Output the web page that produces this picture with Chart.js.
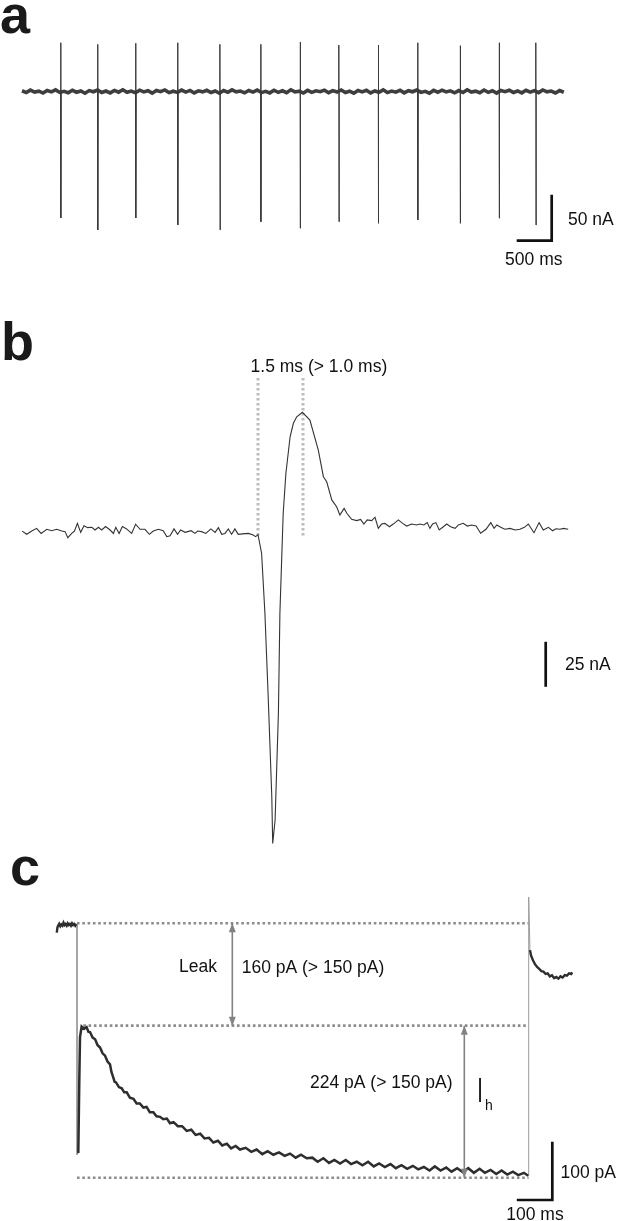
<!DOCTYPE html>
<html>
<head>
<meta charset="utf-8">
<script src="https://cdn.jsdelivr.net/npm/chart.js@4.4.0/dist/chart.umd.min.js"></script>
<style>
  body { margin: 0; background: #fff; width: 617px; height: 1221px; position: relative; overflow: hidden; }
  canvas { position: absolute; left: 0; }
</style>
</head>
<body>
<canvas id="panelA" width="617" height="280" style="top:0"></canvas>
<canvas id="panelB" width="617" height="590" style="top:280px"></canvas>
<canvas id="panelC" width="617" height="381" style="top:840px"></canvas>
<script>
// ---- panel a : spike train (ms, nA) ----
const spikeTimes = [553, 1081, 1624, 2224, 2827, 3411, 3974, 4526, 5090, 5653, 6260, 6817, 7340];
const spikeUp    = [53, 51.3, 52.4, 53, 51.3, 51.3, 53.8, 50.5, 50.5, 53, 49.8, 53, 53];
const spikeDown  = [-137.5, -150.5, -137.5, -145.1, -150.5, -141.5, -148.7, -141.5, -143.3, -139.7, -143.3, -137.8, -145.1];
const baseStepA  = 60; // ms between baseline samples
const baselineNoise = [
  0.8,-1.2,1.5,-0.6,0.3,-1.7,1.1,-0.4,1.8,-1.0,0.2,-1.4,1.3,-0.8,0.6,-1.9,1.0,-0.3,1.6,-1.1,
  0.5,-1.5,1.2,-0.7,1.9,-0.9,0.4,-1.3,1.4,-0.5,0.9,-1.8,1.1,-0.2,1.7,-1.2,0.3,-1.0,1.5,-0.6,
  1.2,-1.6,0.7,-0.4,1.3,-1.1,0.6,-1.9,1.0,-0.8,1.8,-0.3,0.5,-1.4,1.1,-0.7,1.6,-1.2,0.2,-1.5,
  1.4,-0.9,0.8,-1.3,1.9,-0.5,0.4,-1.7,1.2,-1.0,0.7,-0.2,1.5,-1.3,1.0,-0.6,1.7,-1.1,0.3,-1.8,
  1.1,-0.4,1.4,-1.6,0.6,-0.9,1.8,-1.2,0.5,-0.7,1.3,-1.5,0.9,-0.3,1.6,-1.0,0.2,-1.9,1.2,-0.8,
  1.5,-0.5,0.7,-1.4,1.0,-1.1,1.9,-0.6,0.4,-1.3,1.6,-0.9,0.8,-1.7,1.1,-0.2,1.4,-1.0,0.6,-1.5,
  1.3,-0.7,0.9,-1.2,1.7,-0.4,0.5,-1.6,1.0,-0.8
];
const scaleBarA = { t: 7567, v: -162.2, dt: 500, dv: 50 };

// ---- panel b : single spike (ms, nA) ----
const bTime = [
  -7.86,-7.71,-7.54,-7.38,-7.23,-7.04,-6.88,-6.71,-6.54,-6.43,-6.34,-6.21,-6.12,-6.02,-5.91,-5.80,-5.68,-5.54,-5.43,-5.32,
  -5.21,-5.08,-4.93,-4.82,-4.74,-4.63,-4.52,-4.38,-4.21,-4.08,-3.93,-3.77,-3.62,-3.49,-3.32,-3.16,-3.04,-2.93,-2.80,-2.68,
  -2.58,-2.43,-2.34,-2.23,-2.10,-2.01,-1.88,-1.74,-1.57,-1.43,-1.32,-1.21,-1.10,-0.99,-0.88,-0.77,-0.66,-0.43,-0.32,-0.16,
  -0.08,0.00,
  0.12,0.23,0.34,0.46,0.49,0.57,0.68,0.73,0.84,0.93,1.07,1.18,1.29,1.48,1.73,2.01,2.18,2.29,2.46,2.62,2.73,2.87,2.96,3.12,
  3.29,3.42,3.53,3.64,3.79,3.90,4.01,4.12,4.23,4.38,4.51,4.68,4.82,4.96,5.12,5.29,5.40,5.53,5.64,5.73,
  5.82,5.93,6.04,6.18,6.29,6.42,6.57,6.68,6.84,6.98,7.12,7.27,7.42,7.60,7.76,7.87,7.96,8.09,8.23,8.40,
  8.57,8.73,8.88,9.01,9.20,9.37,9.51,9.68,9.82,9.93,10.07,10.18,10.34
];
const bCurrent = [
  -0.6,-2.4,-0.6,0.9,-1.9,0.4,-0.4,0.4,-0.6,-0.9,-4.3,-1.9,-0.6,3.7,-1.3,2.4,1.3,1.5,0,1.5,
  0,1.9,0,-1.9,1.5,-1.9,1.9,0.6,-1.9,3.2,0.4,0.4,-2.4,-0.6,0.4,-0.4,-3.7,-3.2,0.6,-2.4,
  0,-1.3,-0.9,-0.4,-1.9,-0.6,-0.9,-1.9,0.6,-1.3,1.3,-2.4,-1.9,0.6,-2.4,0.6,-2.4,-2.0,-1.9,-2.8,
  -3.7,-2.6,
  -12.9,-46.1,-92.6,-148.2,-174.1,-161.1,-101.8,-46.3,9.3,31.5,51.8,59.3,62.9,65.4,61.1,44.4,29.6,26.8,16.7,12.9,8.3,12.0,9.3,5.9,
  5.2,5.9,3.3,5.6,5.2,7.1,0.9,3.3,3.7,1.8,3.3,5.6,3.7,2.2,3.3,2.8,3.3,2.8,4.1,0.9,
  3.3,4.1,0,1.8,3.3,1.8,0.9,2.8,3.7,2.2,2.8,2.2,-1.8,0.4,4.1,0.9,2.8,1.5,0.4,0.9,
  0,0.4,1.5,3.3,-1.5,4.1,0,1.5,-0.4,0.7,0.4,0.9,0.4
];
const widthMarks = [0, 1.5];          // ms, onset and peak
const widthMarkRange = [84.4, -3.5];  // nA
const scaleBarB = { t: 9.59, v: -87.1, dv: 25 };

// ---- panel c : hyperpolarising step (ms, pA) ----
const cPre = [[-57,-16],[-55,-7],[-53,-4],[-50,-1],[-47,-5],[-44,-2],[-41,-4],[-38,1],[-35,-3],[-32,-1],
  [-29,-4],[-26,0],[-23,-3],[-20,-1],[-17,-4],[-14,0],[-11,-3],[-8,-1],[-5,-4],[-2,-1]];
const cStep = [[3.7,-394],[6.5,-269],[8.5,-195],[13,-177],[20,-181],[27,-178],[32,-186],[37,-187],[44,-196],[51,-199],
  [58,-209],[65,-213],[72,-223],[79,-227],[86,-237],[93,-242],[97,-255],[101,-262],[106,-272],[110,-273],
  [118,-281],[126,-283],[133,-290],[140,-290],[149,-299],[159,-301],[168,-309],[177,-309],[187,-316],[196,-315],
  [205,-324],[215,-324],[224,-331],[234,-332],[243,-336],[253,-335],[262,-343],[272,-341],[284,-348],[296,-348],
  [309,-356],[322,-354],[334,-363],[347,-361],[359,-369],[372,-368],[384,-376],[397,-373],[409,-381],[422,-378],
  [434,-386],[447,-382],[459,-388],[475,-385],[491,-392],[506,-388],[522,-396],[537,-391],[553,-397],[569,-393],
  [585,-399],[600,-395],[616,-402],[631,-397],[647,-403],[663,-402],[678,-409],[694,-403],[710,-411],[725,-406],
  [741,-412],[757,-406],[772,-413],[788,-409],[804,-415],[820,-409],[836,-417],[851,-412],[867,-418],[883,-413],
  [898,-420],[914,-415],[930,-421],[946,-416],[961,-422],[977,-418],[993,-424],[1008,-417],[1024,-424],[1040,-419],
  [1055,-426],[1071,-420],[1087,-427],[1102,-420],[1118,-428],[1134,-421],[1149,-428],[1165,-423],[1181,-430],[1196,-424],
  [1212,-431],[1228,-426],[1243,-432],[1259,-428],[1271,-433]];
const cPost = [[1276,-46],[1279,-55],[1284,-63],[1290,-70],[1296,-75],[1302,-78],[1308,-82],[1314,-83],[1320,-87],[1326,-86],
  [1332,-91],[1338,-89],[1344,-94],[1350,-92],[1356,-95],[1362,-91],[1368,-93],[1374,-89],[1380,-90],[1386,-86],[1392,-87],[1395,-84]];
const cOnTransient  = [[0,-1],[0,-397],[3.7,-394]];
const cOffTransient = [[1271,-433],[1272.4,-433],[1272.4,45],[1276,-46]];
const cLevels   = [0, -175.6, -436.4];      // pA: holding, Ih onset, steady state
const cLevelFrom = [0, 17.7, 0];            // ms
const stepEnd   = 1272;                     // ms
const leakAt = 437.5, ihAt = 1091;          // ms
const scaleBarC = { t: 1338.9, v: -474.6, dt: 100, dv: 100 };

const FONT = '"Liberation Sans", Arial, sans-serif';
const TRACE = '#2e2e2e';

const pts = arr => arr.map(([x, y]) => ({ x, y }));

// layout: pixel origin and pixels per unit for each panel
function range(origin, perUnit, size, invert) {
  return invert ? { min: (origin - size) / perUnit, max: origin / perUnit }
                : { min: -origin / perUnit, max: (size - origin) / perUnit };
}

const overlay = {
  id: 'overlay',
  afterDatasetsDraw(chart, args, opts) {
    const { ctx, scales: { x, y } } = chart;
    ctx.save();
    chart.data.datasets.forEach((ds, i) => {
      if (!ds.arrowHeads) return;
      const els = chart.getDatasetMeta(i).data;
      [[els[0], els[1]], [els[els.length - 1], els[els.length - 2]]].forEach(([tip, from]) => {
        const a = Math.atan2(tip.y - from.y, tip.x - from.x);
        const L = 9, W = 3.5;
        ctx.fillStyle = ds.borderColor;
        ctx.beginPath();
        ctx.moveTo(tip.x, tip.y);
        ctx.lineTo(tip.x - L * Math.cos(a) + W * Math.sin(a), tip.y - L * Math.sin(a) - W * Math.cos(a));
        ctx.lineTo(tip.x - L * Math.cos(a) - W * Math.sin(a), tip.y - L * Math.sin(a) + W * Math.cos(a));
        ctx.closePath();
        ctx.fill();
      });
    });
    (opts.labels || []).forEach(l => {
      ctx.save();
      ctx.font = l.font || '17.5px ' + FONT;
      ctx.fillStyle = '#111';
      ctx.textAlign = l.align || 'left';
      ctx.textBaseline = l.baseline || 'middle';
      ctx.translate(x.getPixelForValue(l.x), y.getPixelForValue(l.y));
      if (l.stretch) ctx.scale(1, l.stretch);
      ctx.fillText(l.text, 0, 0);
      ctx.restore();
    });
    if (opts.letter) {
      ctx.font = 'bold 54px ' + FONT;
      ctx.fillStyle = '#1a1a1a';
      ctx.textAlign = 'left';
      ctx.textBaseline = 'alphabetic';
      ctx.fillText(opts.letter.text, opts.letter.x, opts.letter.y);
    }
    ctx.restore();
  }
};

function makeChart(id, datasets, xr, yr, overlayOpts) {
  return new Chart(document.getElementById(id), {
    type: 'line',
    data: { datasets },
    options: {
      responsive: false,
      animation: false,
      events: [],
      layout: { padding: 0 },
      elements: { point: { radius: 0 }, line: { tension: 0, borderCapStyle: 'butt' } },
      scales: {
        x: { type: 'linear', display: false, min: xr.min, max: xr.max },
        y: { type: 'linear', display: false, min: yr.min, max: yr.max }
      },
      plugins: { legend: { display: false }, tooltip: { enabled: false }, overlay: overlayOpts }
    },
    plugins: [overlay]
  });
}

function line(data, color, width, extra) {
  return Object.assign({ data, borderColor: color, borderWidth: width, clip: false, fill: false, spanGaps: false, order: 0 }, extra || {});
}

// ---------- panel a ----------
const spikeData = [];
spikeTimes.forEach((t, i) => {
  spikeData.push({ x: t, y: 0 }, { x: t, y: spikeUp[i] }, { x: t + 3, y: spikeDown[i] }, { x: t + 6, y: 0 }, { x: t + 6, y: null });
});
const baselineA = baselineNoise.map((v, i) => ({ x: i * baseStepA, y: v }));
const sbA = scaleBarA;

makeChart('panelA', [
  line(spikeData, '#3a3a3a', 1),
  line(baselineA, '#3e3e3e', 3.6, { order: 1 }),
  line([{ x: sbA.t - sbA.dt, y: sbA.v }, { x: sbA.t, y: sbA.v }, { x: sbA.t, y: sbA.v + sbA.dv }], '#111', 2.7, { borderJoinStyle: 'miter' })
], range(22, 0.07, 617, false), range(91.5, 0.92, 280, true), {
  letter: { text: 'a', x: 0, y: 33 },
  labels: [
    { text: '50 nA', x: 7800, y: -140.4 },
    { text: '500 ms', x: 7311, y: -183.2, align: 'center' }
  ]
});

// ---------- panel b ----------
const traceB = bTime.map((t, i) => ({ x: t, y: bCurrent[i] }));
const sbB = scaleBarB;
makeChart('panelB', [
  line(traceB, '#333', 1.1),
  ...widthMarks.map(t => line([{ x: t, y: widthMarkRange[0] }, { x: t, y: widthMarkRange[1] }], '#bdbdbd', 3, { borderDash: [2.5, 2.5], order: 5 })),
  line([{ x: sbB.t, y: sbB.v }, { x: sbB.t, y: sbB.v + sbB.dv }], '#111', 2.7)
], range(258, 30, 617, false), range(250, 1.8, 590, true), {
  letter: { text: 'b', x: 1, y: 80 },
  labels: [
    { text: '1.5 ms (> 1.0 ms)', x: 2.03, y: 90.6, align: 'center' },
    { text: '25 nA', x: 10.23, y: -75 }
  ]
});

// ---------- panel c ----------
const sbC = scaleBarC;
makeChart('panelC', [
  line(pts(cPre), TRACE, 2.4),
  line(pts(cStep), TRACE, 2.5),
  line(pts(cPost), TRACE, 2.4),
  line(pts(cOnTransient), '#9a9a9a', 1, { order: 1 }),
  line(pts(cOffTransient), '#9a9a9a', 1, { order: 1 }),
  ...cLevels.map((v, i) => line([{ x: cLevelFrom[i], y: v }, { x: stepEnd, y: v }], '#8c8c8c', 2.6, { borderDash: [2.6, 2.7], order: 5 })),
  line([{ x: leakAt, y: cLevels[0] }, { x: leakAt, y: cLevels[1] }], '#828282', 1.6, { arrowHeads: true, order: 2 }),
  line([{ x: ihAt, y: cLevels[1] }, { x: ihAt, y: cLevels[2] }], '#828282', 1.6, { arrowHeads: true, order: 2 }),
  line([{ x: sbC.t - sbC.dt, y: sbC.v }, { x: sbC.t, y: sbC.v }, { x: sbC.t, y: sbC.v + sbC.dv }], '#111', 2.7, { borderJoinStyle: 'miter' })
], range(77, 0.355, 617, false), range(83.3, 0.583, 381, true), {
  letter: { text: 'c', x: 10, y: 45 },
  labels: [
    { text: 'Leak', x: 340.8, y: -74.4, align: 'center' },
    { text: '160 pA (> 150 pA)', x: 463.9, y: -76.7 },
    { text: '224 pA (> 150 pA)', x: 656.3, y: -274.4 },
    { text: 'I', x: 1135, y: -306, align: 'center', baseline: 'alphabetic', font: '20px ' + FONT, stretch: 1.8 },
    { text: 'h', x: 1149.3, y: -320.4, baseline: 'alphabetic', font: '14px ' + FONT },
    { text: '100 pA', x: 1362, y: -429 },
    { text: '100 ms', x: 1290, y: -500, align: 'center' }
  ]
});
</script>
</body>
</html>
